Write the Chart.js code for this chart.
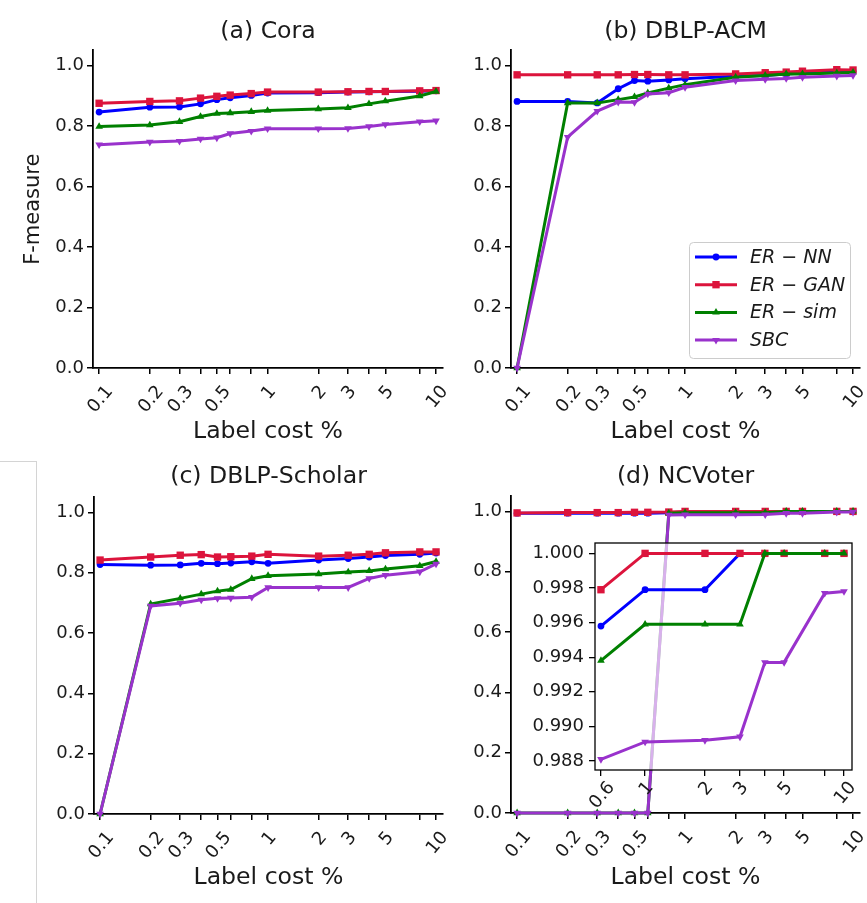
<!DOCTYPE html>
<html>
<head>
<meta charset="utf-8">
<script src="https://cdn.jsdelivr.net/npm/chart.js@4.4.1/dist/chart.umd.min.js"></script>
<style>
  body { margin: 0; background: #fff; }
  #fig { position: relative; width: 867px; height: 903px; overflow: hidden; background: #fff; }
  canvas { position: absolute; }
  .edge { position: absolute; left: 0; top: 461px; width: 36px; height: 460px;
          border-top: 1px solid #d4d4d4; border-right: 1px solid #d4d4d4; }
</style>
</head>
<body>
<div id="fig">
  <div class="edge"></div>
  <canvas id="cora" width="450" height="455" style="left:0;top:0"></canvas>
  <canvas id="acm" width="412" height="455" style="left:455px;top:0"></canvas>
  <canvas id="scholar" width="450" height="458" style="left:0;top:445px"></canvas>
  <canvas id="voter" width="412" height="458" style="left:455px;top:445px"></canvas>
  <canvas id="voterZoom" width="340" height="290" style="left:520px;top:530px"></canvas>
</div>
<script>
// label cost (%) on the x axis
const labelCost = [0.1, 0.2, 0.3, 0.4, 0.5, 0.6, 0.8, 1, 2, 3, 4, 5, 8, 10];
const costTickLabels = [0.1, 0.2, 0.3, 0.5, 1, 2, 3, 5, 10];
const fTicks = [0, 0.2, 0.4, 0.6, 0.8, 1.0];
const methods = ['ER \u2212 NN', 'ER \u2212 GAN', 'ER \u2212 sim', 'SBC'];

// (a) Cora
const coraNN  = [0.846, 0.862, 0.863, 0.873, 0.887, 0.893, 0.901, 0.909, 0.910, 0.912, 0.913, 0.914, 0.915, 0.916];
const coraGAN = [0.875, 0.881, 0.883, 0.892, 0.898, 0.902, 0.907, 0.912, 0.912, 0.913, 0.914, 0.914, 0.916, 0.917];
const coraSim = [0.798, 0.803, 0.814, 0.831, 0.841, 0.843, 0.847, 0.851, 0.856, 0.860, 0.873, 0.882, 0.899, 0.914];
const coraSBC = [0.738, 0.747, 0.750, 0.757, 0.761, 0.775, 0.783, 0.791, 0.791, 0.792, 0.798, 0.805, 0.814, 0.817];

// (b) DBLP-ACM
const acmNN  = [0.881, 0.881, 0.876, 0.923, 0.950, 0.948, 0.952, 0.956, 0.964, 0.967, 0.972, 0.975, 0.978, 0.981];
const acmGAN = [0.969, 0.969, 0.969, 0.969, 0.970, 0.970, 0.969, 0.969, 0.972, 0.976, 0.978, 0.981, 0.986, 0.985];
const acmSim = [0.000, 0.876, 0.876, 0.887, 0.896, 0.909, 0.925, 0.936, 0.961, 0.967, 0.972, 0.972, 0.975, 0.977];
const acmSBC = [0.000, 0.763, 0.849, 0.879, 0.878, 0.906, 0.910, 0.928, 0.950, 0.954, 0.957, 0.961, 0.965, 0.967];

// (c) DBLP-Scholar
const scholarNN  = [0.827, 0.825, 0.826, 0.831, 0.830, 0.832, 0.836, 0.831, 0.842, 0.847, 0.852, 0.857, 0.861, 0.865];
const scholarGAN = [0.842, 0.852, 0.858, 0.860, 0.852, 0.853, 0.855, 0.861, 0.855, 0.858, 0.861, 0.866, 0.869, 0.869];
const scholarSim = [0.000, 0.696, 0.715, 0.729, 0.739, 0.744, 0.780, 0.790, 0.796, 0.802, 0.806, 0.812, 0.823, 0.837];
const scholarSBC = [0.000, 0.690, 0.699, 0.710, 0.715, 0.716, 0.719, 0.751, 0.751, 0.751, 0.781, 0.792, 0.803, 0.829];

// (d) NCVoter
const voterNN  = [0.994, 0.994, 0.994, 0.994, 0.994, 0.994, 0.9958, 0.9979, 0.9979, 1, 1, 1, 1, 1];
const voterGAN = [0.995, 0.996, 0.996, 0.996, 0.997, 0.997, 0.9979, 1, 1, 1, 1, 1, 1, 1];
const voterSim = [0, 0, 0, 0, 0, 0, 0.9938, 0.9959, 0.9959, 0.9959, 1, 1, 1, 1];
const voterSBC = [0, 0, 0, 0, 0, 0, 0.9881, 0.9891, 0.9892, 0.9894, 0.9937, 0.9937, 0.9977, 0.9978];

// (d) zoomed view
const insetCost = [0.6, 1, 2, 3, 4, 5, 8, 10];
const insetTickLabels = [0.6, 1, 2, 3, 5, 10];
const insetTicks = [0.988, 0.990, 0.992, 0.994, 0.996, 0.998, 1.000];
const insetNN  = [0.9958, 0.9979, 0.9979, 1, 1, 1, 1, 1];
const insetGAN = [0.9979, 1, 1, 1, 1, 1, 1, 1];
const insetSim = [0.9938, 0.9959, 0.9959, 0.9959, 1, 1, 1, 1];
const insetSBC = [0.9881, 0.9891, 0.9892, 0.9894, 0.9937, 0.9937, 0.9977, 0.9978];

const FONT = "'DejaVu Sans'";
const INK = '#1a1a1a';

const lineStyles = [
  { color: '#0000ff', pointStyle: 'circle', pointRadius: 3.4, pointRotation: 0 },
  { color: '#dc143c', pointStyle: 'rect', pointRadius: 5.2, pointRotation: 0 },
  { color: '#008000', pointStyle: 'triangle', pointRadius: 4.4, pointRotation: 0 },
  { color: '#9932cc', pointStyle: 'triangle', pointRadius: 4.4, pointRotation: 180 }
];

// later series are painted over earlier ones
function makeDatasets(xs, series) {
  return series.map((ys, i) => ({
    label: methods[i],
    data: xs.map((x, j) => ({ x: x, y: ys[j] })),
    order: series.length - i,
    borderColor: lineStyles[i].color,
    backgroundColor: lineStyles[i].color,
    borderWidth: 3,
    pointStyle: lineStyles[i].pointStyle,
    pointRadius: lineStyles[i].pointRadius,
    pointRotation: lineStyles[i].pointRotation,
    pointBorderWidth: 0,
    tension: 0,
    clip: false
  }));
}

// rotated x tick labels, centred under their ticks
const slantTicks = {
  id: 'slantTicks',
  afterDraw(chart, args, o) {
    const scale = chart.scales.x;
    const ctx = chart.ctx;
    const a = o.angle * Math.PI / 180;
    ctx.save();
    ctx.font = o.size + 'px ' + FONT;
    ctx.fillStyle = INK;
    ctx.textAlign = 'center';
    ctx.textBaseline = 'alphabetic';
    scale.ticks.forEach(t => {
      if (!t.label) return;
      const w = ctx.measureText(t.label).width;
      const h = o.size * 0.73;
      const bh = w * Math.sin(a) + h * Math.cos(a);
      const x = scale.getPixelForValue(t.value);
      const y = scale.top + o.offset + bh / 2;
      ctx.save();
      ctx.translate(x, y);
      ctx.rotate(-a);
      ctx.fillText(t.label, 0, h / 2);
      ctx.restore();
    });
    ctx.restore();
  }
};

function drawMarker(ctx, ds, x, y) {
  const r = ds.pointRadius;
  ctx.fillStyle = ds.backgroundColor;
  ctx.beginPath();
  if (ds.pointStyle === 'circle') {
    ctx.arc(x, y, r, 0, Math.PI * 2);
  } else if (ds.pointStyle === 'rect') {
    const s = r * Math.SQRT1_2;
    ctx.rect(x - s, y - s, 2 * s, 2 * s);
  } else {
    let rad = ds.pointRotation * Math.PI / 180;
    for (let k = 0; k < 3; k++) {
      const px = x + Math.sin(rad) * r, py = y - Math.cos(rad) * r;
      k ? ctx.lineTo(px, py) : ctx.moveTo(px, py);
      rad += Math.PI * 2 / 3;
    }
    ctx.closePath();
  }
  ctx.fill();
}

// legend box: line + marker sample for each series
const lineLegend = {
  id: 'lineLegend',
  afterDraw(chart, args, o) {
    if (!o.show) return;
    const { ctx, chartArea } = chart;
    const x0 = chartArea.right - o.inset - o.width;
    const y0 = chartArea.bottom - o.inset - o.height;
    ctx.save();
    ctx.fillStyle = 'rgba(255,255,255,0.8)';
    ctx.strokeStyle = '#cccccc';
    ctx.lineWidth = 1;
    ctx.beginPath();
    ctx.roundRect(x0 + 0.5, y0 + 0.5, o.width, o.height, 4);
    ctx.fill();
    ctx.stroke();
    chart.data.datasets.forEach((ds, i) => {
      const cy = y0 + o.first + i * o.row;
      const lx = x0 + o.pad;
      ctx.strokeStyle = ds.borderColor;
      ctx.lineWidth = ds.borderWidth;
      ctx.beginPath();
      ctx.moveTo(lx, cy);
      ctx.lineTo(lx + o.line, cy);
      ctx.stroke();
      drawMarker(ctx, ds, lx + o.line / 2, cy);
      ctx.fillStyle = INK;
      ctx.font = 'italic ' + o.size + 'px ' + FONT;
      ctx.textBaseline = 'middle';
      ctx.fillText(ds.label, lx + o.line + o.gap, cy + 1);
    });
    ctx.restore();
  }
};

// white-ish face and full frame for the zoomed axes
const insetFrame = {
  id: 'insetFrame',
  beforeDraw(chart, args, o) {
    if (!o.show) return;
    const { ctx, chartArea: c } = chart;
    ctx.save();
    ctx.fillStyle = 'rgba(255,255,255,0.62)';
    ctx.fillRect(c.left, c.top, c.right - c.left, c.bottom - c.top);
    ctx.restore();
  },
  afterDraw(chart, args, o) {
    if (!o.show) return;
    const { ctx, chartArea: c } = chart;
    ctx.save();
    ctx.strokeStyle = '#000';
    ctx.lineWidth = 1.3;
    ctx.strokeRect(c.left, c.top, c.right - c.left, c.bottom - c.top);
    ctx.restore();
  }
};

const axisGrid = { drawOnChartArea: false, drawTicks: true, tickLength: 6, lineWidth: 1.5, color: '#000' };
const axisBorder = { display: true, color: '#000', width: 1.8 };

function makePanel(id, title, series, cfg) {
  return new Chart(document.getElementById(id), {
    type: 'line',
    data: { datasets: makeDatasets(labelCost, series) },
    plugins: [slantTicks, lineLegend, insetFrame],
    options: {
      responsive: false,
      animation: false,
      events: [],
      devicePixelRatio: 1,
      layout: { padding: { left: 0, right: cfg.right, top: 0, bottom: 0 } },
      plugins: {
        legend: { display: false },
        tooltip: { enabled: false },
        title: {
          display: true, text: title, fullSize: false, color: INK,
          font: { family: FONT, size: 23.6, weight: 'normal' },
          padding: { top: 18, bottom: cfg.titleGap }
        },
        slantTicks: { angle: 50, size: 18, offset: 15 },
        lineLegend: { show: !!cfg.legend, inset: 10, width: 161, height: 116, first: 15, row: 27.7,
                      pad: 6, line: 42, gap: 13, size: 19 },
        insetFrame: { show: false }
      },
      scales: {
        x: {
          type: 'logarithmic', min: 0.092, max: 11.0,
          afterBuildTicks: s => { s.ticks = labelCost.map(v => ({ value: v })); },
          afterFit: s => { s.height = cfg.xh; s.paddingLeft = 0; s.paddingRight = 0; },
          ticks: { display: false, callback: v => costTickLabels.includes(v) ? String(v) : '' },
          grid: axisGrid,
          border: axisBorder,
          title: {
            display: true, text: 'Label cost %', color: INK,
            font: { family: FONT, size: 23.6 },
            padding: { top: 0, bottom: cfg.xlabelGap }
          }
        },
        y: {
          min: 0, max: 1.05,
          afterBuildTicks: s => { s.ticks = fTicks.map(v => ({ value: v })); },
          afterFit: s => { s.width = cfg.yw; s.paddingTop = 0; s.paddingBottom = 0; },
          ticks: { color: INK, font: { family: FONT, size: 18 }, padding: 3, callback: v => v.toFixed(1) },
          grid: axisGrid,
          border: axisBorder,
          title: {
            display: !!cfg.ylabel, text: 'F-measure', color: INK,
            font: { family: FONT, size: 21 },
            padding: { top: 21, bottom: 0 }
          }
        }
      }
    }
  });
}

makePanel('cora', '(a) Cora', [coraNN, coraGAN, coraSim, coraSBC],
  { right: 7, xh: 87, yw: 93, titleGap: 4, xlabelGap: 9, ylabel: true });
makePanel('acm', '(b) DBLP-ACM', [acmNN, acmGAN, acmSim, acmSBC],
  { right: 7, xh: 87, yw: 56, titleGap: 4, xlabelGap: 9, legend: true });
makePanel('scholar', '(c) DBLP-Scholar', [scholarNN, scholarGAN, scholarSim, scholarSBC],
  { right: 7, xh: 89, yw: 94, titleGap: 6, xlabelGap: 11 });
makePanel('voter', '(d) NCVoter', [voterNN, voterGAN, voterSim, voterSBC],
  { right: 7, xh: 90, yw: 56, titleGap: 5, xlabelGap: 11 });

// zoomed view of (d) near F = 1
new Chart(document.getElementById('voterZoom'), {
  type: 'line',
  data: { datasets: makeDatasets(insetCost, [insetNN, insetGAN, insetSim, insetSBC]) },
  plugins: [slantTicks, insetFrame],
  options: {
    responsive: false,
    animation: false,
    events: [],
    devicePixelRatio: 1,
    layout: { padding: { left: 0, right: 8, top: 13, bottom: 0 } },
    plugins: {
      legend: { display: false },
      tooltip: { enabled: false },
      slantTicks: { angle: 50, size: 18, offset: 9 },
      insetFrame: { show: true }
    },
    scales: {
      x: {
        type: 'logarithmic', min: 0.56, max: 10.97,
        afterBuildTicks: s => { s.ticks = insetCost.map(v => ({ value: v })); },
        afterFit: s => { s.height = 50; s.paddingLeft = 0; s.paddingRight = 0; },
        ticks: { display: false, callback: v => insetTickLabels.includes(v) ? String(v) : '' },
        grid: { drawOnChartArea: false, drawTicks: true, tickLength: 6, lineWidth: 1.3, color: '#000' },
        border: { display: false }
      },
      y: {
        min: 0.98748, max: 1.0006,
        afterBuildTicks: s => { s.ticks = insetTicks.map(v => ({ value: v })); },
        afterFit: s => { s.width = 75; s.paddingTop = 0; s.paddingBottom = 0; },
        ticks: { color: INK, font: { family: FONT, size: 18 }, padding: 5, callback: v => v.toFixed(3) },
        grid: { drawOnChartArea: false, drawTicks: true, tickLength: 6, lineWidth: 1.3, color: '#000' },
        border: { display: false }
      }
    }
  }
});
</script>
</body>
</html>
